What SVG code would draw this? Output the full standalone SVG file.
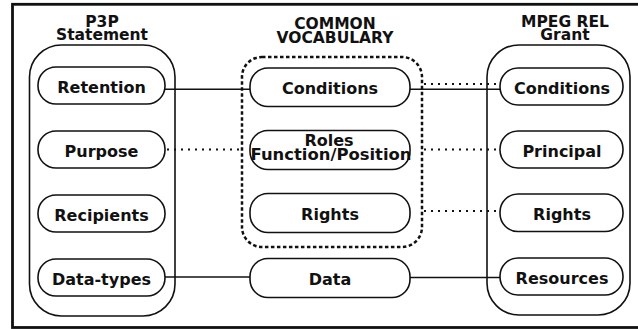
<svg xmlns="http://www.w3.org/2000/svg" width="638" height="329" viewBox="0 0 638 329">
<style>
text{font-family:"DejaVu Sans","Liberation Sans",sans-serif;font-weight:bold;fill:#111;text-anchor:middle}
.t{font-size:16px}
.h{font-size:15.5px}
.n{fill:#fff;stroke:#111;stroke-width:1.6}
.c{fill:none;stroke:#111;stroke-width:1.6}
.s{stroke:#111;stroke-width:1.6;fill:none}
.d{stroke:#111;stroke-width:2.2;stroke-dasharray:2 5;fill:none}
</style>
<rect x="12.5" y="4.3" width="640" height="323.2" fill="#fff" stroke="#111" stroke-width="2.8"/>

<g id="p3p">
  <rect class="c" x="29.5" y="45" width="145.5" height="271" rx="32"/>
  <text class="h" x="102" y="27">P3P</text>
  <text class="h" x="102" y="39.5">Statement</text>
</g>
<g id="common">
  <rect x="242" y="57" width="180" height="190" rx="20" fill="none" stroke="#111" stroke-width="2.5" stroke-dasharray="3.5 2.5"/>
  <text class="h" x="335" y="29">COMMON</text>
  <text class="h" x="335" y="42.5">VOCABULARY</text>
</g>
<g id="mpeg">
  <rect class="c" x="487" y="45" width="143" height="270" rx="32"/>
  <text class="h" x="565" y="27">MPEG REL</text>
  <text class="h" x="565" y="39.5">Grant</text>
</g>

<g id="connectors">
  <line class="s" x1="165" y1="89.3" x2="250" y2="89.3"/>
  <line class="s" x1="410" y1="89.3" x2="500" y2="89.3"/>
  <line class="d" x1="424" y1="84" x2="500" y2="84"/>
  <line class="d" x1="167" y1="149.5" x2="242" y2="149.5"/>
  <line class="d" x1="424" y1="149.5" x2="500" y2="149.5"/>
  <line class="d" x1="424" y1="211" x2="500" y2="211"/>
  <line class="s" x1="165" y1="277" x2="250" y2="277"/>
  <line class="s" x1="410" y1="277.5" x2="500" y2="277.5"/>
</g>

<g id="retention"><rect class="n" x="38" y="67" width="127" height="37" rx="18"/><text class="t" x="101.5" y="92.5">Retention</text></g>
<g id="purpose"><rect class="n" x="38" y="131" width="127" height="37" rx="18"/><text class="t" x="101.5" y="156.5">Purpose</text></g>
<g id="recipients"><rect class="n" x="38" y="195" width="127" height="37" rx="18"/><text class="t" x="101.5" y="220.5">Recipients</text></g>
<g id="datatypes"><rect class="n" x="38" y="259" width="127" height="37" rx="18"/><text class="t" x="101.5" y="284.5">Data-types</text></g>

<g id="c-conditions"><rect class="n" x="250" y="68" width="160" height="38.5" rx="18"/><text class="t" x="330" y="94">Conditions</text></g>
<g id="c-roles"><rect class="n" x="250" y="130.5" width="160" height="39" rx="18"/><text class="t" x="329" y="145.5">Roles</text><text class="t" x="331" y="159.5" textLength="161" lengthAdjust="spacingAndGlyphs">Function/Position</text></g>
<g id="c-rights"><rect class="n" x="250" y="193.5" width="160" height="39" rx="18"/><text class="t" x="330" y="219.5">Rights</text></g>
<g id="c-data"><rect class="n" x="250" y="258.5" width="160" height="39" rx="18"/><text class="t" x="330" y="284.5">Data</text></g>

<g id="r-conditions"><rect class="n" x="500" y="68" width="123" height="37" rx="18"/><text class="t" x="562" y="93.5">Conditions</text></g>
<g id="r-principal"><rect class="n" x="500" y="131" width="123" height="37" rx="18"/><text class="t" x="562" y="156.5">Principal</text></g>
<g id="r-rights"><rect class="n" x="500" y="194" width="123" height="37.5" rx="18"/><text class="t" x="562" y="219.5">Rights</text></g>
<g id="r-resources"><rect class="n" x="500" y="258" width="123" height="37" rx="18"/><text class="t" x="562" y="283.5">Resources</text></g>
</svg>
